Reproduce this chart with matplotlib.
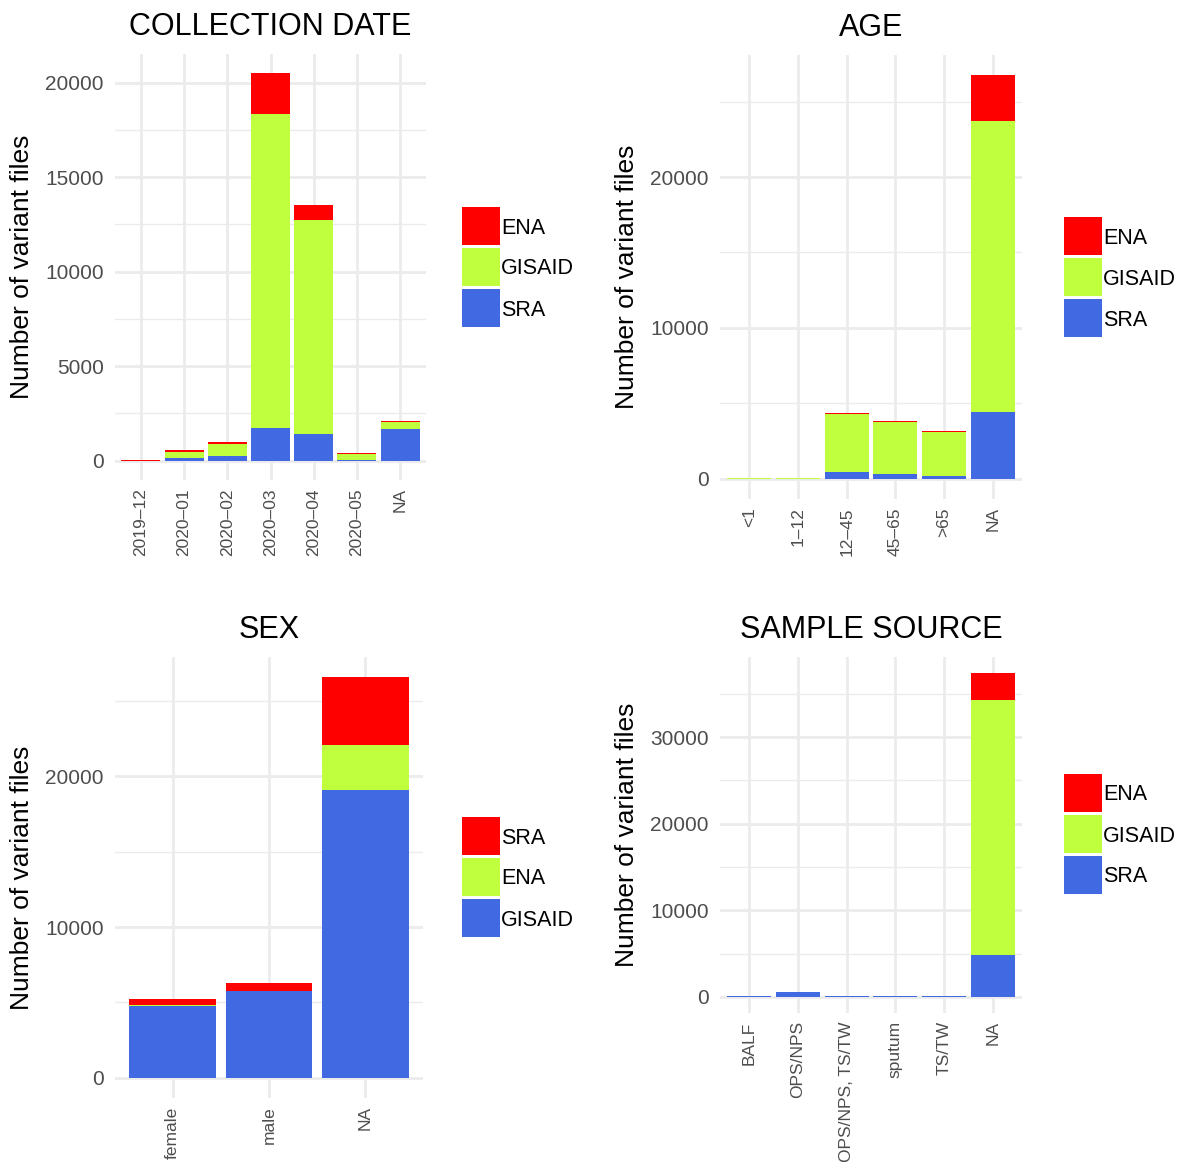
import matplotlib
matplotlib.use("Agg")
import matplotlib.pyplot as plt
import matplotlib.transforms as mtransforms
from matplotlib.patches import Rectangle
import numpy as np

plt.rcParams['font.family'] = ['Liberation Sans', 'DejaVu Sans']

RED = "#FF0000"
GREEN = "#C0FF3E"
BLUE = "#4169E1"

# ---- data ----
date_cats = ["2019–12", "2020–01", "2020–02", "2020–03", "2020–04", "2020–05", "NA"]
date_sra = [0, 160, 265, 1750, 1430, 10, 1690]
date_gisaid = [0, 320, 640, 16600, 11320, 360, 370]
date_ena = [60, 100, 100, 2150, 800, 60, 60]

age_cats = ["<1", "1–12", "12–45", "45–65", ">65", "NA"]
age_sra = [0, 0, 460, 330, 200, 4440]
age_gisaid = [30, 40, 3840, 3445, 2910, 19260]
age_ena = [0, 0, 70, 65, 70, 3050]

sex_cats = ["female", "male", "NA"]
sex_gisaid = [4790, 5760, 19070]
sex_ena = [40, 0, 2980]
sex_sra = [400, 530, 4510]

src_cats = ["BALF", "OPS/NPS", "OPS/NPS, TS/TW", "sputum", "TS/TW", "NA"]
src_sra = [120, 600, 100, 100, 100, 4840]
src_gisaid = [0, 0, 0, 0, 0, 29420]
src_ena = [0, 0, 0, 0, 0, 3110]

W, H = 1184, 1162
fig = plt.figure(figsize=(W / 100, H / 100), dpi=100)


def px_axes(l, t, r, b):
    return fig.add_axes([l / W, 1 - b / H, (r - l) / W, (b - t) / H])


def panel(box, cats, layers, title, major_step, legend_items, legend_box):
    ax = px_axes(*box)
    x = np.arange(len(cats))
    bottom = np.zeros(len(cats))
    for vals, col in layers:
        v = np.array(vals, dtype=float)
        ax.bar(x, v, bottom=bottom, width=0.9, color=col, linewidth=0, zorder=3)
        bottom += v
    ymax = bottom.max()
    ax.set_ylim(-0.05 * ymax, ymax * 1.05)
    ax.set_xlim(-0.6, len(cats) - 0.4)
    majors = np.arange(0, ymax * 1.05 + 1, major_step)
    ax.set_yticks(majors)
    ax.set_yticklabels([f"{int(m)}" for m in majors])
    minors = np.arange(major_step / 2, ymax * 1.05, major_step)
    ax.set_yticks(minors, minor=True)
    ax.set_xticks(x)
    ax.set_xticklabels(cats, rotation=90, ha="center", va="top")
    shift = mtransforms.ScaledTranslation(3 / 100, 0, fig.dpi_scale_trans)
    for lbl in ax.get_xticklabels():
        lbl.set_transform(lbl.get_transform() + shift)
    for s in ax.spines.values():
        s.set_visible(False)
    ax.tick_params(axis="both", which="both", length=0, labelcolor="#4D4D4D")
    ax.tick_params(axis="y", pad=8, labelsize=15)
    ax.tick_params(axis="x", pad=6, labelsize=12.5)
    ax.grid(True, which="major", axis="both", color="#EBEBEB", linewidth=2.0, zorder=0)
    ax.grid(True, which="minor", axis="y", color="#EBEBEB", linewidth=1.0, zorder=0)
    ax.set_axisbelow(True)
    ax.set_ylabel("Number of variant files", fontsize=19, color="black", labelpad=8)
    ax.set_title(title, fontsize=22, color="black", pad=14)
    # legend
    lx, ly = legend_box
    for i, (lab, col) in enumerate(legend_items):
        top = ly + i * 41
        fig.add_artist(Rectangle((lx / W, 1 - (top + 38) / H), 38 / W, 38 / H,
                                 transform=fig.transFigure, color=col, linewidth=0))
        fig.text((lx + 39) / W, 1 - (top + 21) / H, lab, fontsize=15.5,
                 va="center", ha="left", color="black")
    return ax


panel((115, 54, 426, 480), date_cats,
      [(date_sra, BLUE), (date_gisaid, GREEN), (date_ena, RED)],
      "COLLECTION DATE", 5000,
      [("ENA", RED), ("GISAID", GREEN), ("SRA", BLUE)], (462, 207))

panel((720, 55, 1022, 499), age_cats,
      [(age_sra, BLUE), (age_gisaid, GREEN), (age_ena, RED)],
      "AGE", 10000,
      [("ENA", RED), ("GISAID", GREEN), ("SRA", BLUE)], (1064, 217))

panel((115, 657, 423, 1098), sex_cats,
      [(sex_gisaid, BLUE), (sex_ena, GREEN), (sex_sra, RED)],
      "SEX", 10000,
      [("SRA", RED), ("ENA", GREEN), ("GISAID", BLUE)], (462, 817))

panel((720, 657, 1022, 1013), src_cats,
      [(src_sra, BLUE), (src_gisaid, GREEN), (src_ena, RED)],
      "SAMPLE SOURCE", 10000,
      [("ENA", RED), ("GISAID", GREEN), ("SRA", BLUE)], (1064, 774))

fig.savefig("out.png", dpi=100, facecolor="white")
